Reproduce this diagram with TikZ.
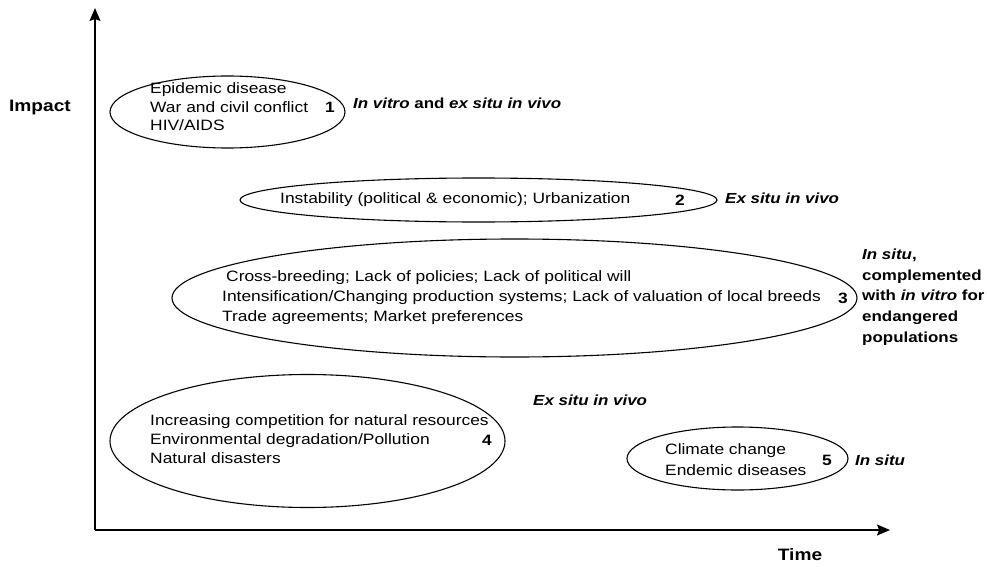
\documentclass[tikz,border=0pt]{standalone}
\usepackage{fontspec}
\setmainfont{Liberation Sans}[FakeStretch=1.16]
\usetikzlibrary{positioning,shapes.geometric,arrows.meta}

\begin{document}
\begin{tikzpicture}[
  x=1pt, y=-1pt,
  zone/.style={ellipse, draw, line width=1.1pt, inner sep=0pt},
  cause/.style={align=left, font=\fontsize{15}{19}\selectfont, inner sep=0pt, anchor=west},
  num/.style={font=\fontsize{15}{17}\selectfont\bfseries, inner sep=0pt},
  strat/.style={align=left, font=\fontsize{14.6}{20.7}\selectfont\bfseries, inner sep=0pt, anchor=west},
  axislabel/.style={font=\fontsize{16.5}{19}\selectfont\bfseries, inner sep=0pt},
  axis/.style={line width=1.2pt, -{Stealth[length=13pt,width=11pt,inset=2pt]}}
]
  \useasboundingbox (0,0) rectangle (987,567);
  % axes
  \coordinate (O) at (95,530);
  \coordinate (Ytop) at (95,8);
  \coordinate (Xend) at (890,530);
  \draw[axis] (O) -- (Ytop);
  \draw[axis] (O) -- (Xend);
  \node[axislabel] (impact) at (40,108) {Impact};
  \node[axislabel] (time) at (800,555) {Time};

  % zone 1
  \node[zone, minimum width=235, minimum height=72] (Z1) at (227.5,112) {};
  \node[cause, font=\fontsize{15}{18.5}\selectfont] (C1) at (150,107) {Epidemic disease\\War and civil conflict\\HIV/AIDS};
  \node[num] (N1) at (330,107) {1};
  \node[strat] (S1) at (353,103) {\textit{In vitro} and \textit{ex situ in vivo}};

  % zone 2
  \node[zone, minimum width=477, minimum height=44] (Z2) at (478.5,200) {};
  \node[cause] (C2) at (280,200) {Instability (political \& economic); Urbanization};
  \node[num] (N2) at (680,200) {2};
  \node[strat] (S2) at (725,198) {\textit{Ex situ in vivo}};

  % zone 3
  \node[zone, minimum width=685, minimum height=118] (Z3) at (514.5,298) {};
  \node[cause, font=\fontsize{15}{20}\selectfont] (C3) at (222,298) {\hspace{4pt}Cross-breeding; Lack of policies; Lack of political will\\Intensification/Changing production systems; Lack of valuation of local breeds\\Trade agreements; Market preferences};
  \node[num] (N3) at (843,298) {3};
  \node[strat] (S3) at (862,297) {\textit{In situ},\\complemented\\with \textit{in vitro} for\\endangered\\populations};

  % zone 4
  \node[zone, minimum width=395, minimum height=133] (Z4) at (307.5,441) {};
  \node[cause] (C4) at (150,439) {Increasing competition for natural resources\\Environmental degradation/Pollution\\Natural disasters};
  \node[num] (N4) at (487,440) {4};
  \node[strat] (S4) at (533,400) {\textit{Ex situ in vivo}};

  % zone 5
  \node[zone, minimum width=221, minimum height=63] (Z5) at (737.5,458.5) {};
  \node[cause, font=\fontsize{15}{21}\selectfont] (C5) at (665,459.5) {Climate change\\Endemic diseases};
  \node[num] (N5) at (827,460) {5};
  \node[strat] (S5) at (855,460) {\textit{In situ}};
\end{tikzpicture}
\end{document}
